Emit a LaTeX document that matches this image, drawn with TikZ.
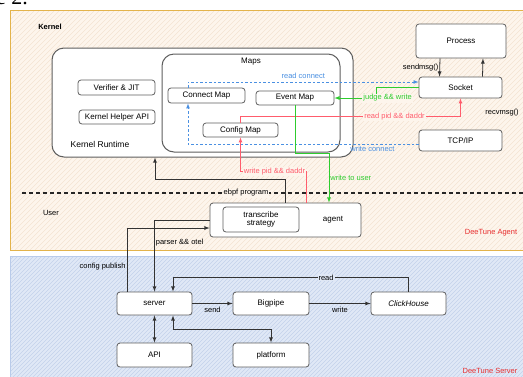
\documentclass[tikz,border=0pt]{standalone}
\usepackage{fontspec}
\setmainfont{Liberation Sans}
\newfontfamily\capfont{Liberation Serif}
\usepackage{tikz}
\usetikzlibrary{arrows,calc}
\definecolor{agentbg}{HTML}{FDF5EC}
\definecolor{agenthatch}{HTML}{F2DFCB}
\definecolor{agentrim}{HTML}{E3B34A}
\definecolor{serverbg}{HTML}{E0E8F6}
\definecolor{serverhatch}{HTML}{C3D1EA}
\definecolor{serverrim}{HTML}{B9CBEA}
\definecolor{boxrim}{HTML}{5E5E5E}
\definecolor{linkblue}{HTML}{4A90E2}
\definecolor{linkgreen}{HTML}{2ECC2E}
\definecolor{linkred}{HTML}{FF5C6C}
\definecolor{tagred}{HTML}{E82E2E}
\tikzset{every picture/.append style={x=1pt,y=-1pt}}
\tikzset{box/.style={draw=boxrim, fill=white, rounded corners=3pt, line width=0.8pt, font=\fontsize{8}{8.5}\selectfont, align=center, inner sep=0pt}}
\tikzset{bigbox/.style={box, rounded corners=12pt, line width=1pt}}
\tikzset{lbl/.style={font=\fontsize{7.5}{8}\selectfont, inner sep=1pt}}
\tikzset{arc/.style={-latex, line width=0.8pt, draw=black!80}}
\tikzset{twoarc/.style={latex-latex, line width=0.8pt, draw=black!80}}
\tikzset{bluearc/.style={-latex, line width=0.7pt, draw=linkblue, dashed, dash pattern=on 2.5pt off 2pt}}
\tikzset{greenarc/.style={-latex, line width=0.8pt, draw=linkgreen}}
\tikzset{redarc/.style={-latex, line width=0.7pt, draw=linkred}}

\begin{document}
\begin{tikzpicture}
%eBPF based tracing: agent in the kernel/user space and the server side behind it
\useasboundingbox (0,0) rectangle (523,376);
\node (cap) at (-4,4)[anchor=base west, font=\capfont\fontsize{22}{22}\selectfont, inner sep=0pt]{e 2.};
% background panels
\fill[agentbg] (10,10) rectangle (530,250);
\begin{scope}
\clip (10,10) rectangle (530,250);
\foreach \i in {0,5,...,800} \draw[agenthatch, line width=0.35pt] (\i-260,250)--(\i,-10);
\end{scope}
\draw[agentrim, line width=0.9pt] (530,10)--(10,10)--(10,250)--(530,250);
\fill[serverbg] (10,256) rectangle (530,380);
\begin{scope}
\clip (10,256) rectangle (530,380);
\foreach \i in {0,4,...,700} \draw[serverhatch, line width=0.4pt] (\i-130,380)--(\i,250);
\end{scope}
\draw[serverrim, line width=0.9pt] (530,256)--(10,256)--(10,380);
\draw[black!85, line width=1.2pt, dash pattern=on 4pt off 3pt] (22,193)--(523,193);
\node (kernel) at (50,27)[lbl, font=\bfseries\fontsize{7.5}{8}\selectfont]{Kernel};
\node (user) at (51,213)[lbl]{User};
\node (tagagent) at (491,233)[lbl, text=tagred]{DeeTune Agent};
\node (tagserver) at (490,371)[lbl, text=tagred]{DeeTune Server};
% kernel side
\node (runtime) at (202.5,102.5)[bigbox, minimum width=301, minimum height=109]{};
\node (rtname) at (100,144)[font=\fontsize{8.5}{9}\selectfont]{Kernel Runtime};
\node (maps) at (251,103)[bigbox, minimum width=178, minimum height=98]{};
\node (mapsname) at (251,62)[font=\fontsize{8}{8.5}\selectfont]{Maps};
\node (verifier) at (116.5,87.5)[box, minimum width=77, minimum height=15]{Verifier \& JIT};
\node (helper) at (117,117)[box, minimum width=76, minimum height=14]{Kernel Helper API};
\node (connect) at (206.5,95.5)[box, minimum width=77, minimum height=15]{Connect Map};
\node (event) at (295,98)[box, minimum width=78, minimum height=14]{Event Map};
\node (config) at (240.5,130)[box, minimum width=75, minimum height=14]{Config Map};
\node (process) at (461,41)[box, minimum width=90, minimum height=34]{Process};
\node (socket) at (460.5,87.5)[box, minimum width=83, minimum height=21]{Socket};
\node (tcpip) at (460.5,140.5)[box, minimum width=83, minimum height=21]{TCP/IP};
\node (recv) at (502,113)[lbl]{recvmsg()};
% user side
\node (agent) at (285.5,220)[box, minimum width=151, minimum height=34]{};
\node (agentname) at (333,220)[font=\fontsize{8}{8.5}\selectfont]{agent};
\node (strategy) at (261,219.5)[box, minimum width=76, minimum height=25]{transcribe\\strategy};
% server side
\node (server) at (154.5,303.5)[box, minimum width=75, minimum height=23]{server};
\node (bigpipe) at (271,303.5)[box, minimum width=76, minimum height=23]{Bigpipe};
\node (clickhouse) at (408.5,303.5)[box, minimum width=75, minimum height=23]{\itshape ClickHouse};
\node (api) at (154.5,355)[box, minimum width=75, minimum height=24]{API};
\node (platform) at (271,355)[box, minimum width=76, minimum height=24]{platform};
% kernel links
\draw[arc] ([xshift=-21pt]process.south)--([xshift=-21pt]socket.north)node [midway, left, lbl] {sendmsg()};
\draw[arc] ([xshift=22pt]socket.north)--([xshift=22pt]process.south);
\draw[bluearc] ([xshift=-18.5pt]connect.north)|-([yshift=5.5pt]socket.west)node [pos=0.75, above=2pt, lbl, text=linkblue] {read connect};
\draw[bluearc] ([yshift=-3.5pt]tcpip.west)-|([xshift=-18.5pt]connect.south)node [pos=0.1, below=1pt, lbl, text=linkblue] {write connect};
\draw[greenarc] (socket.west)--([xshift=-42pt]socket.west)|-(event.east)node [pos=0.5, xshift=11pt, lbl, fill=agentbg, text=linkgreen] {judge \&\& write};
\draw[redarc] (config.north)--++(0,-6)-|(socket.south)node [pos=0.35, lbl, fill=agentbg, text=linkred] {read pid \&\& daddr};
\draw[redarc] ([xshift=20.5pt]agent.north)--++(0,-31)-|(config.south)node [pos=0.5, anchor=west, xshift=2pt, lbl, fill=agentbg, text=linkred] {write pid \&\& daddr};
\draw[greenarc] (event.south)--++(0,48)-|([xshift=43.5pt]agent.north)node [pos=0.75, right, lbl, text=linkgreen] {write to user};
\draw[arc] (agent.north)--++(0,-23)-|([xshift=-47.5pt]runtime.south);
\node (ebpf) at (246,193)[lbl, fill=agentbg]{ebpf program};
% user <-> server
\draw[arc] ([xshift=-27.5pt]server.north)|-([yshift=-8pt]agent.west)node [pos=0.2, left, lbl] {config publish};
\draw[arc] (agent.west)-|(server.north)node [pos=0.66, right, lbl] {parser \&\& otel};
% server links
\draw[arc] (server.east)--(bigpipe.west)node [midway, below=2pt, lbl] {send};
\draw[arc] (bigpipe.east)--(clickhouse.west)node [midway, below=2pt, lbl] {write};
\draw[arc] (clickhouse.north)--++(0,-14)-|([xshift=18.5pt]server.north)node [pos=0.175, lbl, fill=serverbg] {read};
\draw[twoarc] (server.south)--(api.north);
\draw[twoarc] ([xshift=18.5pt]server.south)--++(0,14)-|(platform.north);
\end{tikzpicture}
\end{document}
